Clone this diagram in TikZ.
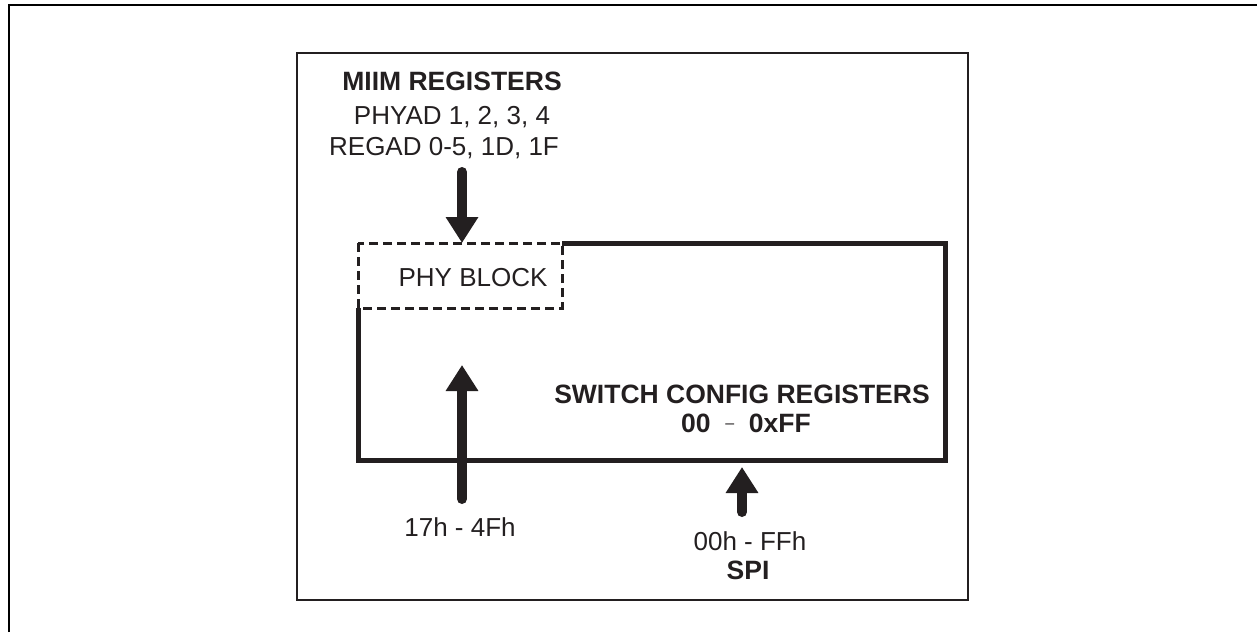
\documentclass[tikz,border=0pt]{standalone}
\usepackage{fontspec}
\setmainfont{Liberation Sans}
\usetikzlibrary{arrows.meta}
\definecolor{ink}{HTML}{231F20}
\tikzset{
  lbl/.style={font=\fontsize{26}{31}\selectfont, text=ink, inner sep=0pt, anchor=center},
  blbl/.style={font=\fontsize{26.5}{31}\selectfont\bfseries, text=ink, inner sep=0pt, anchor=center},
  bigarrow/.style={draw=ink, line width=10pt, line cap=round, -{Triangle[width=31pt,length=26pt]}},
  mainbox/.style={draw=ink, line width=5pt, line join=miter},
  phybox/.style={draw=ink, line width=3pt, dash pattern=on 9pt off 5pt},
  frame/.style={draw=ink, line width=2.5pt}
}
\begin{document}
\begin{tikzpicture}[x=1pt,y=-1pt]
\useasboundingbox (0,0) rectangle (1257,632);
% outer frame lines
\coordinate (oTL) at (9,5);
\coordinate (oTR) at (1257,5);
\coordinate (oBL) at (9,632);
\draw[black, line width=2.5pt] (oBL) -- (oTL) -- (oTR);
% inner frame
\coordinate (fTL) at (297,53);
\coordinate (fBR) at (968,600);
\draw[frame] (fTL) rectangle (fBR);
% main box (solid part)
\coordinate (bA) at (562,243);
\coordinate (bB) at (945,243);
\coordinate (bC) at (945,460);
\coordinate (bD) at (358,460);
\coordinate (bE) at (358,308);
\draw[mainbox] (bA) -- (bB) -- (bC) -- (bD) -- (bE);
% PHY block dashed
\coordinate (pTL) at (358,243);
\coordinate (pBR) at (562,308);
\draw[phybox] (pTL) rectangle (pBR);
\node[lbl] (phy) at (473,278) {PHY BLOCK};
% texts
\node[blbl] (miim) at (452,81) {MIIM REGISTERS};
\node[lbl] (phyad) at (452,117) {PHYAD 1, 2, 3, 4};
\node[lbl] (regad) at (444,148) {REGAD 0-5, 1D, 1F};
\node[blbl] (sw) at (742,394) {SWITCH CONFIG REGISTERS};
\node[blbl] (range) at (746,423) {00 \ \raisebox{4pt}{\mdseries\fontsize{16}{18}\selectfont –}\ \ 0xFF};
\node[lbl] (l17) at (460,527) {17h - 4Fh};
\node[lbl] (l00) at (750,541) {00h - FFh};
\node[blbl] (spi) at (748,570) {SPI};
% arrows
\coordinate (a1s) at (462,172);
\coordinate (a1e) at (462,243);
\draw[bigarrow] (a1s) -- (a1e);
\coordinate (a2s) at (462,499);
\coordinate (a2e) at (462,365);
\draw[bigarrow] (a2s) -- (a2e);
\coordinate (a3s) at (742,512);
\coordinate (a3e) at (742,467);
\draw[bigarrow] (a3s) -- (a3e);
\end{tikzpicture}
\end{document}
